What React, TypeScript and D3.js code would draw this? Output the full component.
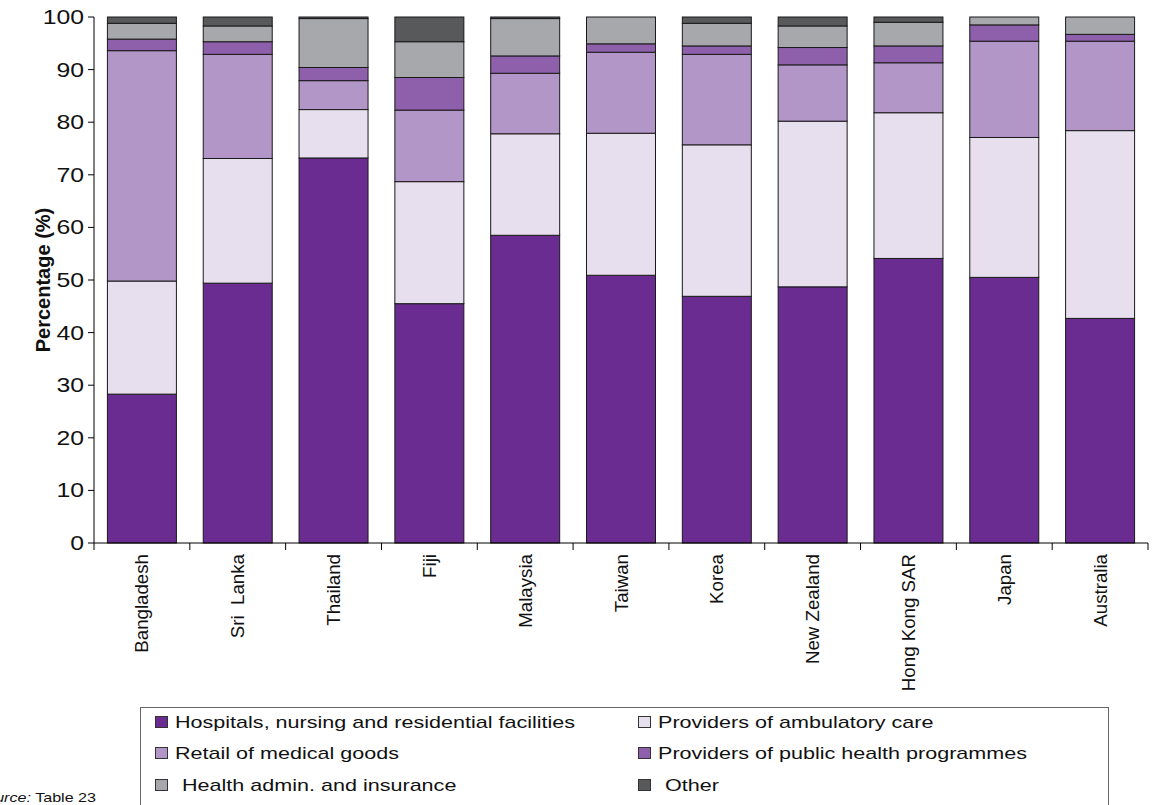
import React, { useEffect, useRef } from "react";
import * as d3 from "d3";

const countries = ["Bangladesh", "Sri  Lanka", "Thailand", "Fiji", "Malaysia", "Taiwan", "Korea", "New Zealand", "Hong Kong SAR", "Japan", "Australia"];
const hospitals = [28.3, 49.4, 73.2, 45.5, 58.5, 50.9, 46.9, 48.7, 54.1, 50.5, 42.7];
const ambulatory = [21.5, 23.7, 9.2, 23.2, 19.3, 27.0, 28.8, 31.5, 27.7, 26.6, 35.7];
const retail = [43.8, 19.8, 5.5, 13.6, 11.5, 15.4, 17.2, 10.7, 9.5, 18.3, 17.0];
const publicHealth = [2.2, 2.4, 2.5, 6.2, 3.3, 1.6, 1.6, 3.3, 3.2, 3.1, 1.3];
const admin = [3.0, 3.0, 9.3, 6.8, 7.1, 5.1, 4.3, 4.1, 4.5, 1.5, 3.3];
const other = [1.2, 1.7, 0.3, 4.7, 0.3, 0.0, 1.2, 1.7, 1.0, 0.0, 0.0];
const yTicks = [0, 10, 20, 30, 40, 50, 60, 70, 80, 90, 100];

const seriesNames = [
  "Hospitals, nursing and residential facilities",
  "Providers of ambulatory care",
  "Retail of medical goods",
  "Providers of public health programmes",
  "Health admin. and insurance",
  "Other",
];
const seriesColors = ["#6A2C91", "#E8DFEE", "#B396C8", "#8E5FAA", "#A7A8AB", "#58595B"];
const seriesValues = [hospitals, ambulatory, retail, publicHealth, admin, other];

export default function App() {
  const ref = useRef<SVGSVGElement>(null);

  useEffect(() => {
    const svg = d3.select(ref.current);
    svg.selectAll("*").remove();
    const font = "Liberation Sans, Arial, Helvetica, sans-serif";
    const sx = 1.24; // horizontal stretch of the original artwork's horizontal text
    const left = 94, right = 1148, top = 17, bottom = 543;

    const x = d3.scaleBand<string>().domain(countries).range([left, right]).paddingInner(0.28).paddingOuter(0.14);
    const y = d3.scaleLinear().domain([0, 100]).range([bottom, top]);

    const rows = countries.map((c, i) => {
      const r: any = { country: c };
      seriesNames.forEach((s, k) => (r[s] = seriesValues[k][i]));
      return r;
    });
    const stacked = d3.stack<any>().keys(seriesNames)(rows);

    const g = svg.append("g");
    stacked.forEach((layer, k) => {
      g.append("g")
        .selectAll("rect")
        .data(layer)
        .join("rect")
        .filter((d: any) => d[1] - d[0] > 0)
        .attr("x", (d: any) => x(d.data.country)!)
        .attr("width", x.bandwidth())
        .attr("y", (d: any) => y(d[1]))
        .attr("height", (d: any) => y(d[0]) - y(d[1]))
        .attr("fill", seriesColors[k])
        .attr("stroke", "#1a1a1a")
        .attr("stroke-width", 1);
    });

    // Y axis
    const ya = svg.append("g");
    ya.append("line").attr("x1", left).attr("x2", left).attr("y1", top).attr("y2", bottom).attr("stroke", "#000");
    yTicks.forEach((t) => {
      ya.append("line").attr("x1", left - 6).attr("x2", left).attr("y1", y(t)).attr("y2", y(t)).attr("stroke", "#000");
      ya.append("text")
        .attr("transform", `translate(${left - 10},${y(t)}) scale(${sx},1)`)
        .attr("dy", "0.35em")
        .attr("text-anchor", "end").attr("font-family", font).attr("font-size", 20).attr("fill", "#111").text(String(t));
    });
    svg.append("text")
      .attr("transform", `translate(43,${(top + bottom) / 2}) rotate(-90)`)
      .attr("text-anchor", "middle").attr("dy", "0.35em")
      .attr("font-family", font).attr("font-size", 20).attr("font-weight", "bold").attr("fill", "#111")
      .text("Percentage (%)");

    // X axis
    const xa = svg.append("g");
    xa.append("line").attr("x1", left).attr("x2", right).attr("y1", bottom).attr("y2", bottom).attr("stroke", "#000");
    const step = x.step();
    for (let i = 0; i <= countries.length; i++) {
      const xx = left + i * step;
      xa.append("line").attr("x1", xx).attr("x2", xx).attr("y1", bottom).attr("y2", bottom + 7).attr("stroke", "#000");
    }
    countries.forEach((c) => {
      const cx = x(c)! + x.bandwidth() / 2;
      xa.append("text")
        .attr("transform", `translate(${cx},${bottom + 11}) rotate(-90)`)
        .attr("text-anchor", "end").attr("dy", "0.35em")
        .attr("font-family", font).attr("font-size", 18.7).attr("fill", "#111")
        .style("white-space", "pre")
        .text(c);
    });

    // Legend
    const lg = svg.append("g");
    lg.append("rect").attr("x", 140.5).attr("y", 707.5).attr("width", 968).attr("height", 120)
      .attr("fill", "none").attr("stroke", "#666").attr("stroke-width", 1);
    const colX = [155, 638];
    const rowY = [722, 753, 785];
    seriesNames.forEach((s, k) => {
      const cx = colX[k % 2];
      const cy = rowY[Math.floor(k / 2)];
      const extra = k >= 4 ? 7 : 0;
      lg.append("rect").attr("x", cx + 0.5).attr("y", cy - 5.5).attr("width", 12).attr("height", 11)
        .attr("fill", seriesColors[k]).attr("stroke", "#333").attr("stroke-width", 1);
      lg.append("text")
        .attr("transform", `translate(${cx + 20 + extra},${cy}) scale(${sx},1)`)
        .attr("dy", "0.35em")
        .attr("font-family", font).attr("font-size", 17.4).attr("fill", "#111").text(s);
    });

    // Source (cut at the left edge, as in the reference)
    const src = svg.append("text")
      .attr("transform", `translate(96,802) scale(${sx},1)`)
      .attr("text-anchor", "end")
      .attr("font-family", font).attr("font-size", 13).attr("fill", "#111");
    src.append("tspan").attr("font-style", "italic").text("Source:");
    src.append("tspan").text(" Table 23");
  }, []);

  return (
    <svg
      ref={ref}
      width={1153}
      height={805}
      style={{ position: "absolute", left: 0, top: 0, display: "block", background: "#fff" }}
    />
  );
}
